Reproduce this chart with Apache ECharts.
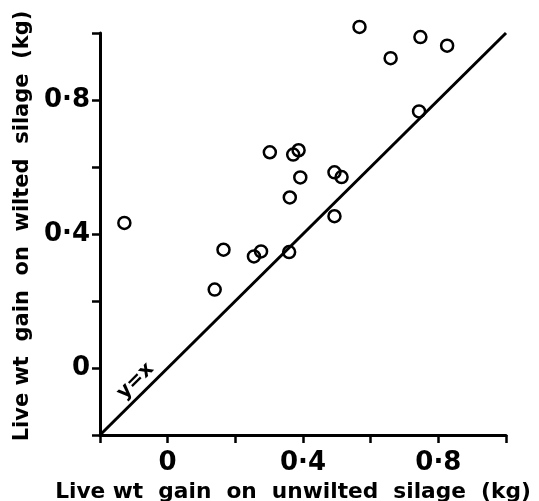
<!DOCTYPE html>
<html>
<head>
<meta charset="utf-8">
<script src="https://cdn.jsdelivr.net/npm/echarts@6/dist/echarts.min.js"></script>
<style>
  html, body { margin: 0; padding: 0; background: #fff; }
  #main { width: 539px; height: 501px; }
</style>
</head>
<body>
<div id="main"></div>
<script>
// live wt gain (kg): unwilted silage (x) vs wilted silage (y)
var xVals = [0.567, 0.747, 0.826, 0.659, 0.743, -0.128, 0.302, 0.371, 0.387, 0.392,
             0.361, 0.493, 0.514, 0.493, 0.165, 0.255, 0.276, 0.359, 0.139];
var yVals = [1.018, 0.988, 0.962, 0.925, 0.766, 0.433, 0.644, 0.637, 0.650, 0.569,
             0.509, 0.584, 0.570, 0.453, 0.353, 0.333, 0.348, 0.346, 0.234];

// y = x reference line ends
var lineX = [-0.2, 1.0];

// labelled ticks
var tickValues = [0, 0.4, 0.8];
var tickLabels = ['0', '0·4', '0·8'];

var points = [];
for (var i = 0; i < xVals.length; i++) {
    points.push([xVals[i], yVals[i]]);
}
var linePts = [];
for (var j = 0; j < lineX.length; j++) {
    linePts.push([lineX[j], lineX[j]]);
}

function fmtTick(v) {
    for (var k = 0; k < tickValues.length; k++) {
        if (Math.abs(v - tickValues[k]) < 1e-6) return tickLabels[k];
    }
    return '';
}

var font = 'DejaVu Sans';
var myChart = echarts.init(document.getElementById('main'));

var axisCommon = {
    min: -0.2,
    max: 1.0,
    interval: 0.2,
    splitLine: { show: false },
    axisLine: { show: true, onZero: false, lineStyle: { color: '#000', width: 3 } },
    axisTick: { show: true, inside: false, length: 8, lineStyle: { color: '#000', width: 2.5 } },
    axisLabel: {
        formatter: fmtTick,
        color: '#000',
        fontFamily: font,
        fontSize: 26,
        fontWeight: 'bold',
        showMinLabel: true,
        showMaxLabel: true
    },
    nameLocation: 'middle'
};

var option = {
    animation: false,
    backgroundColor: '#fff',
    grid: { left: 100, right: 33, top: 33, bottom: 66, outerBoundsMode: 'none' },
    xAxis: echarts.util.merge({
        type: 'value',
        name: 'Live wt  gain  on  unwilted  silage  (kg)',
        nameGap: 43,
        nameTextStyle: { color: '#000', fontFamily: font, fontSize: 21.7, fontWeight: 'bold', padding: [0, 20, 0, 0] },
        axisLabel: { margin: 15 }
    }, axisCommon),
    yAxis: echarts.util.merge({
        type: 'value',
        name: 'Live wt  gain  on  wilted  silage  (kg)',
        nameGap: 62,
        nameTextStyle: { color: '#000', fontFamily: font, fontSize: 21, fontWeight: 'bold', padding: [0, 0, 0, 16] },
        axisLabel: { margin: 10 }
    }, axisCommon),
    series: [
        {
            type: 'line',
            data: linePts,
            symbol: 'none',
            lineStyle: { color: '#000', width: 3 },
            silent: true
        },
        {
            type: 'scatter',
            data: points,
            clip: false,
            symbol: 'circle',
            symbolSize: 12,
            itemStyle: { color: 'rgba(0,0,0,0)', borderColor: '#000', borderWidth: 2.5, opacity: 1 }
        },
        {
            // "y=x" label beside the line
            type: 'scatter',
            data: [[-0.095, -0.039]],
            symbolSize: 0,
            silent: true,
            itemStyle: { opacity: 1 },
            label: {
                show: true,
                position: 'inside',
                formatter: 'y=x',
                rotate: 45,
                color: '#000',
                fontFamily: font,
                fontSize: 20,
                fontWeight: 'bold'
            }
        }
    ]
};

myChart.setOption(option);
</script>
</body>
</html>
